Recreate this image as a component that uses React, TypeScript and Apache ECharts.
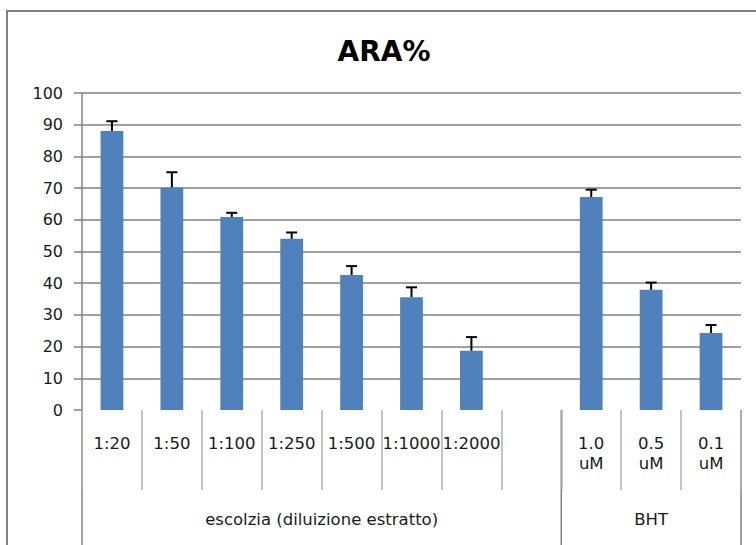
import React, { useEffect, useRef } from "react";
import * as echarts from "echarts";

const categories = ["1:20", "1:50", "1:100", "1:250", "1:500", "1:1000", "1:2000", "", "1.0\nuM", "0.5\nuM", "0.1\nuM"];
const values: (number | null)[] = [88, 70.2, 60.9, 54, 42.6, 35.6, 18.7, null, 67.2, 37.9, 24.3];
const errors: (number | null)[] = [3.1, 4.8, 1.3, 2.0, 2.8, 3.1, 4.3, null, 2.3, 2.3, 2.5];
const groupNames = ["escolzia (diluizione estratto)", "BHT"];
const groupSpans = [8, 3];
const title = "ARA%";

const FONT = "DejaVu Sans";

export default function App() {
  const ref = useRef<HTMLDivElement>(null);
  useEffect(() => {
    document.body.style.margin = "0";
    const chart = echarts.init(ref.current!, undefined, { renderer: "svg" });
    const errData = values
      .map((v, i) => (v == null ? null : [i, v, errors[i]]))
      .filter((d) => d != null);
    chart.setOption({
      animation: false,
      backgroundColor: "#ffffff",
      grid: { left: 82, right: 15, top: 93, bottom: 135 },
      xAxis: {
        type: "category",
        data: categories,
        axisLine: { show: false },
        axisTick: { show: true, length: 80, lineStyle: { color: "#b0b0b0", width: 1.5 } },
        axisLabel: {
          interval: 0,
          margin: 23,
          fontFamily: FONT,
          fontSize: 16.5,
          color: "#1a1a1a",
          lineHeight: 20,
        },
        splitLine: { show: false },
      },
      yAxis: {
        type: "value",
        min: 0,
        max: 100,
        interval: 10,
        axisLine: { show: true, lineStyle: { color: "#808080", width: 1.5 } },
        axisTick: { show: true, length: 8, lineStyle: { color: "#808080", width: 1.5 } },
        axisLabel: { margin: 19, fontFamily: FONT, fontSize: 16, color: "#1a1a1a" },
        splitLine: { show: true, showMinLine: false, lineStyle: { color: "#808080", width: 1.5 } },
      },
      series: [
        {
          type: "bar",
          data: values.map((v) => (v == null ? "-" : v)),
          barWidth: "38%",
          itemStyle: { color: "#4F81BD" },
        },
        {
          type: "custom",
          data: errData,
          z: 5,
          renderItem: (params: any, api: any) => {
            const x = api.value(0);
            const v = api.value(1);
            const e = api.value(2);
            const base = api.coord([x, v]);
            const top = api.coord([x, v + e]);
            const half = 5.5;
            return {
              type: "group",
              children: [
                {
                  type: "line",
                  shape: { x1: base[0], y1: base[1], x2: top[0], y2: top[1] },
                  style: { stroke: "#000", lineWidth: 2 },
                },
                {
                  type: "line",
                  shape: { x1: top[0] - half, y1: top[1], x2: top[0] + half, y2: top[1] },
                  style: { stroke: "#000", lineWidth: 2 },
                },
              ],
            };
          },
        },
      ],
    });

    const c0 = chart.convertToPixel({ xAxisIndex: 0 }, 0) as number;
    const c1 = chart.convertToPixel({ xAxisIndex: 0 }, 1) as number;
    const bw = c1 - c0;
    const boundary = (i: number) => c0 - bw / 2 + i * bw;
    const yBase = chart.convertToPixel({ yAxisIndex: 0 }, 0) as number;
    const graphics: any[] = [
      {
        type: "rect",
        shape: { x: 7, y: 11, width: 900, height: 700 },
        style: { fill: "none", stroke: "#808080", lineWidth: 2 },
        silent: true,
      },
      {
        type: "text",
        x: 384,
        y: 51,
        style: {
          text: title,
          fontFamily: FONT,
          fontWeight: "bold",
          fontSize: 28,
          fill: "#000",
          textAlign: "center",
          textVerticalAlign: "middle",
        },
      },
    ];
    let start = 0;
    const longBounds = [0];
    groupNames.forEach((name, gi) => {
      const span = groupSpans[gi];
      const cx = boundary(start) + (span * bw) / 2;
      graphics.push({
        type: "text",
        x: cx,
        y: 519,
        style: {
          text: name,
          fontFamily: FONT,
          fontSize: 16.5,
          fill: "#1a1a1a",
          textAlign: "center",
          textVerticalAlign: "middle",
        },
      });
      start += span;
      longBounds.push(start);
    });
    longBounds.forEach((b) => {
      const x = boundary(b);
      graphics.push({
        type: "line",
        shape: { x1: x, y1: yBase, x2: x, y2: 560 },
        style: { stroke: "#808080", lineWidth: 1.5 },
      });
    });
    chart.setOption({ graphic: graphics });

    return () => chart.dispose();
  }, []);
  return <div ref={ref} style={{ width: 756, height: 545 }} />;
}
